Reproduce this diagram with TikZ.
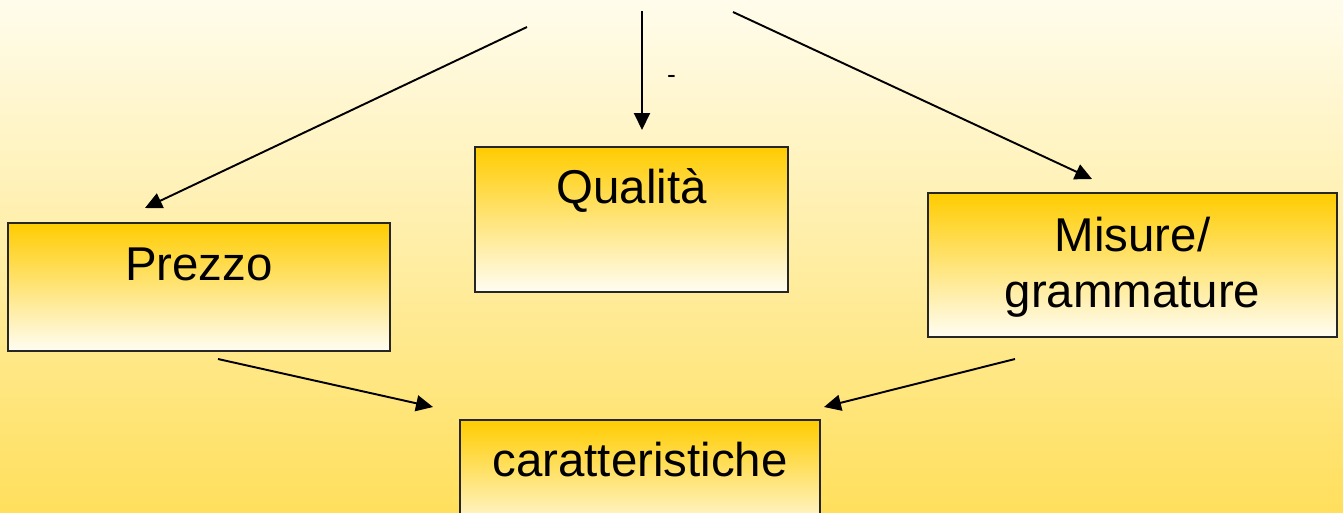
\documentclass[tikz,border=0pt]{standalone}
\usepackage{fontspec}
\setmainfont{Liberation Sans}
\usetikzlibrary{arrows.meta,positioning,calc}
\definecolor{sfondoalto}{HTML}{FFFCEC}
\definecolor{sfondobasso}{HTML}{FFDF5C}
\definecolor{oro}{HTML}{FFCC00}
\definecolor{crema}{HTML}{FFFDF2}
\tikzset{
    >={Triangle[length=0.34cm,width=0.32cm]},
    every picture/.style={line width=1.1pt},
    voce/.style={rectangle,draw=black!85,line width=1.1pt,inner sep=0pt,
        top color=oro,bottom color=crema},
    scritta/.style={inner sep=0pt,font=\fontsize{27}{32}\selectfont}
}

\begin{document}
\begin{tikzpicture}[x=0.02cm,y=-0.02cm]
        % sfondo
        \clip (0,0) rectangle (1343,512);
        \shade[top color=sfondoalto,bottom color=sfondobasso] (0,0) rectangle (1343,512);
        % riquadri
        \node[voce,minimum width=7.66cm,minimum height=2.56cm] (prezzo) at (199,287) {};
        \node[voce,minimum width=6.26cm,minimum height=2.9cm] (qualita) at (631.5,219.5) {};
        \node[voce,minimum width=8.18cm,minimum height=2.88cm] (misure) at (1132.5,265) {};
        \node[voce,minimum width=7.2cm,minimum height=2.4cm] (caratt) at (640,480) {};
        \node[scritta,anchor=base] (tprezzo) at ($(prezzo.north)+(0,58)$) {Prezzo};
        \node[scritta,anchor=base] (tqualita) at ($(qualita.north)+(0,57)$) {Qualità};
        \node[scritta,align=center] (tmisure) at ($(misure.center)+(0,2)$) {Misure/\\grammature};
        \node[scritta,anchor=base] (tcaratt) at ($(caratt.north)+(0,57)$) {caratteristiche};
        \node[inner sep=0pt,font=\fontsize{15}{16}\selectfont] (trattino) at (671.5,79) {-};
        % estremi delle frecce
        \coordinate (sprezzo) at (527,27);
        \coordinate (aprezzo) at (145,208);
        \coordinate (squalita) at (642,11);
        \coordinate (aqualita) at (642,130);
        \coordinate (smisure) at (733,12);
        \coordinate (amisure) at (1092,179);
        \coordinate (dasprezzo) at (218,359);
        \coordinate (damisure) at (1015,359);
        \coordinate (asinistra) at (433,407);
        \coordinate (adestra) at (824,407);
        % frecce
        \draw[->] (sprezzo) -- (aprezzo);
        \draw[->] (squalita) -- (aqualita);
        \draw[->] (smisure) -- (amisure);
        \draw[->] (dasprezzo) -- (asinistra);
        \draw[->] (damisure) -- (adestra);
\end{tikzpicture}
\end{document}
